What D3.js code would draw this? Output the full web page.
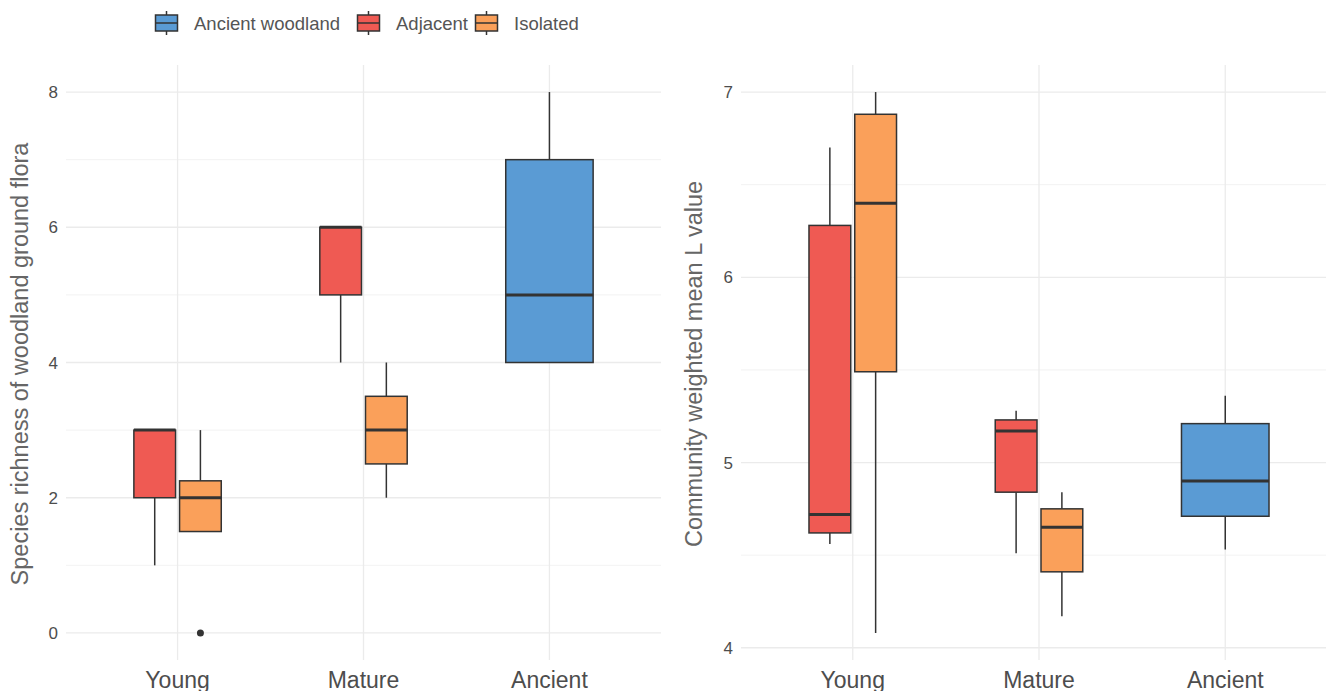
<!DOCTYPE html>
<html>
<head>
<meta charset="utf-8">
<script src="https://cdn.jsdelivr.net/npm/d3@7"></script>
<style>
  body { margin: 0; background: #fff; }
  text { font-family: "Liberation Sans", Arial, sans-serif; }
</style>
</head>
<body>
<div id="chart"></div>
<script>
const ages = ["Young", "Mature", "Ancient"];
const sites = ["Ancient woodland", "Adjacent", "Isolated"];
const colors = ["#5a9bd4", "#ef5a53", "#faa05a"];

// left panel: species richness
const richAge = ["Young", "Young", "Mature", "Mature", "Ancient"];
const richSite = ["Adjacent", "Isolated", "Adjacent", "Isolated", "Ancient woodland"];
const richLow = [1, 1.5, 4, 2, 4];
const richQ1 = [2, 1.5, 5, 2.5, 4];
const richMed = [3, 2, 6, 3, 5];
const richQ3 = [3, 2.25, 6, 3.5, 7];
const richHigh = [3, 3, 6, 4, 8];
const richOut = [[], [0], [], [], []];
const richTicks = [0, 2, 4, 6, 8];
const richMinor = [1, 3, 5, 7];

// right panel: community weighted mean L
const lAge = ["Young", "Young", "Mature", "Mature", "Ancient"];
const lSite = ["Adjacent", "Isolated", "Adjacent", "Isolated", "Ancient woodland"];
const lLow = [4.56, 4.08, 4.51, 4.17, 4.53];
const lQ1 = [4.62, 5.49, 4.84, 4.41, 4.71];
const lMed = [4.72, 6.40, 5.17, 4.65, 4.90];
const lQ3 = [6.28, 6.88, 5.23, 4.75, 5.21];
const lHigh = [6.70, 7.00, 5.28, 4.84, 5.36];
const lOut = [[], [], [], [], []];
const lTicks = [4, 5, 6, 7];
const lMinor = [4.5, 5.5, 6.5];

const width = 1326, height = 691;
const svg = d3.select("#chart").append("svg")
  .attr("width", width).attr("height", height);

const color = d3.scaleOrdinal().domain(sites).range(colors);
const ink = "#333333";

function panel(opt) {
  const x = d3.scalePoint().domain(ages).range([opt.left, opt.right]).padding(0.6);
  const y = d3.scaleLinear().domain(opt.domain).range([660, 65]);
  const g = svg.append("g");

  // grid
  g.selectAll(".minor").data(opt.minor).enter().append("line")
    .attr("x1", opt.left).attr("x2", opt.right)
    .attr("y1", d => y(d)).attr("y2", d => y(d))
    .attr("stroke", "#efefef").attr("stroke-width", 0.8);
  g.selectAll(".major").data(opt.ticks).enter().append("line")
    .attr("x1", opt.left).attr("x2", opt.right)
    .attr("y1", d => y(d)).attr("y2", d => y(d))
    .attr("stroke", "#ebebeb").attr("stroke-width", 1.3);
  g.selectAll(".vgrid").data(ages).enter().append("line")
    .attr("x1", d => x(d)).attr("x2", d => x(d))
    .attr("y1", 65).attr("y2", 660)
    .attr("stroke", "#ebebeb").attr("stroke-width", 1.3);

  // y tick labels
  g.selectAll(".ytick").data(opt.ticks).enter().append("text")
    .attr("x", opt.left - 8).attr("y", d => y(d))
    .attr("dy", "0.36em").attr("text-anchor", "end")
    .attr("font-size", 17).attr("fill", "#4d4d4d")
    .text(d => d);

  // x tick labels
  g.selectAll(".xtick").data(ages).enter().append("text")
    .attr("x", d => x(d)).attr("y", 688)
    .attr("text-anchor", "middle")
    .attr("font-size", 23).attr("fill", "#4d4d4d")
    .text(d => d);

  // y title
  g.append("text")
    .attr("transform", `translate(${opt.titleX},364) rotate(-90)`)
    .attr("text-anchor", "middle").attr("font-size", 23.5).attr("fill", "#666")
    .text(opt.title);

  // boxes, dodged within each age class
  const span = 0.47 * x.step(), gap = 4;
  const rows = opt.age.map((a, i) => {
    const same = opt.age.filter(b => b === a).length;
    const k = opt.age.slice(0, i).filter(b => b === a).length;
    const bw = (span - gap * (same - 1)) / same;
    const x0 = x(a) - span / 2 + k * (bw + gap);
    return {site: opt.site[i], x0: x0, bw: bw, cx: x0 + bw / 2,
      lo: opt.low[i], q1: opt.q1[i], med: opt.med[i], q3: opt.q3[i], hi: opt.high[i], out: opt.out[i]};
  });

  const b = g.selectAll(".box").data(rows).enter().append("g");
  b.append("line")
    .attr("x1", d => d.cx).attr("x2", d => d.cx)
    .attr("y1", d => y(d.hi)).attr("y2", d => y(d.q3))
    .attr("stroke", ink).attr("stroke-width", 1.5);
  b.append("line")
    .attr("x1", d => d.cx).attr("x2", d => d.cx)
    .attr("y1", d => y(d.q1)).attr("y2", d => y(d.lo))
    .attr("stroke", ink).attr("stroke-width", 1.5);
  b.append("rect")
    .attr("x", d => d.x0).attr("width", d => d.bw)
    .attr("y", d => y(d.q3)).attr("height", d => y(d.q1) - y(d.q3))
    .attr("fill", d => color(d.site))
    .attr("stroke", ink).attr("stroke-width", 1.5);
  b.append("line")
    .attr("x1", d => d.x0).attr("x2", d => d.x0 + d.bw)
    .attr("y1", d => y(d.med)).attr("y2", d => y(d.med))
    .attr("stroke", ink).attr("stroke-width", 3);
  b.selectAll("circle").data(d => d.out.map(v => ({cx: d.cx, v: v}))).enter().append("circle")
    .attr("cx", d => d.cx).attr("cy", d => y(d.v)).attr("r", 3.5)
    .attr("fill", ink);
}

panel({left: 66, right: 661, domain: [-0.4, 8.4], ticks: richTicks, minor: richMinor,
  age: richAge, site: richSite, low: richLow, q1: richQ1, med: richMed, q3: richQ3, high: richHigh, out: richOut,
  titleX: 28, title: "Species richness of woodland ground flora"});
panel({left: 741, right: 1337, domain: [3.934, 7.146], ticks: lTicks, minor: lMinor,
  age: lAge, site: lSite, low: lLow, q1: lQ1, med: lMed, q3: lQ3, high: lHigh, out: lOut,
  titleX: 702, title: "Community weighted mean L value"});

// legend
const legendX = [155, 357, 475];
const lg = svg.append("g");
const item = lg.selectAll(".item").data(sites).enter().append("g")
  .attr("transform", (d, i) => `translate(${legendX[i]},0)`);
item.append("line").attr("x1", 11.5).attr("x2", 11.5).attr("y1", 11).attr("y2", 35)
  .attr("stroke", ink).attr("stroke-width", 1.5);
item.append("rect").attr("x", 0.5).attr("y", 15).attr("width", 22).attr("height", 16)
  .attr("fill", d => color(d)).attr("stroke", ink).attr("stroke-width", 1.5);
item.append("line").attr("x1", 0.5).attr("x2", 22.5).attr("y1", 23).attr("y2", 23)
  .attr("stroke", ink).attr("stroke-width", 1.5);
item.append("text").attr("x", 39).attr("y", 23).attr("dy", "0.36em")
  .attr("font-size", 18.5).attr("fill", "#555")
  .text(d => d);
</script>
</body>
</html>
